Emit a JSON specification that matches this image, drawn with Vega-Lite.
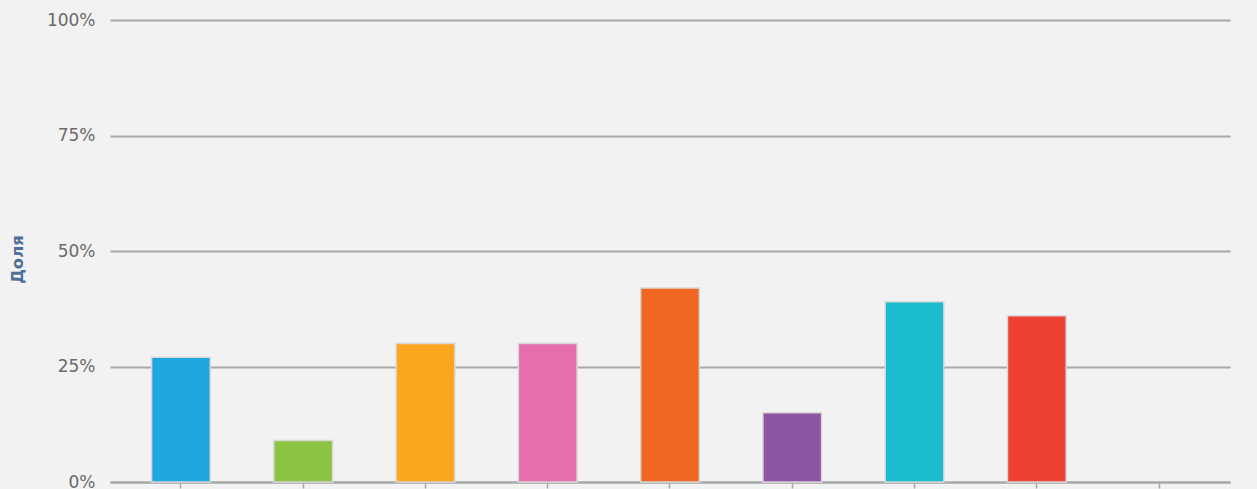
{
  "$schema": "https://vega.github.io/schema/vega-lite/v6.json",
  "autosize": "none",
  "width": 1120,
  "height": 462,
  "padding": {"left": 110, "top": 20, "right": 27, "bottom": 7},
  "background": "#f2f2f2",
  "data": {
    "values": [
      {"k": "1", "v": 0.27, "c": "#1ea6df"},
      {"k": "2", "v": 0.09, "c": "#8bc441"},
      {"k": "3", "v": 0.30, "c": "#fba61e"},
      {"k": "4", "v": 0.30, "c": "#e66eab"},
      {"k": "5", "v": 0.42, "c": "#f06722"},
      {"k": "6", "v": 0.15, "c": "#8d55a1"},
      {"k": "7", "v": 0.39, "c": "#1bbccd"},
      {"k": "8", "v": 0.36, "c": "#ee4134"},
      {"k": "9", "v": null, "c": "#cccccc"}
    ]
  },
  "mark": {"type": "bar", "stroke": "#d8d8d8", "strokeWidth": 1.5},
  "encoding": {
    "x": {
      "field": "k", "type": "nominal", "sort": null,
      "scale": {"domain": ["1", "2", "3", "4", "5", "6", "7", "8", "9"], "paddingInner": 0.52, "paddingOuter": 0.34},
      "axis": {"title": null, "labels": false, "domainColor": "#a8a8a8", "domainWidth": 2, "tickColor": "#a8a8a8", "tickSize": 6, "tickWidth": 1.5, "grid": false}
    },
    "y": {
      "field": "v", "type": "quantitative",
      "scale": {"domain": [0, 1]},
      "axis": {
        "title": "Доля", "format": ".0%", "values": [0, 0.25, 0.5, 0.75, 1],
        "ticks": false, "domain": false, "grid": true, "gridColor": "#a8a8a8", "gridWidth": 2,
        "labelFont": "DejaVu Sans", "labelFontSize": 17, "labelColor": "#6a6a6a", "labelPadding": 15,
        "titleFont": "DejaVu Sans", "titleFontSize": 16.5, "titleFontWeight": "bold", "titleColor": "#4e6f98", "titlePadding": 21, "titleY": 239
      }
    },
    "color": {"field": "c", "type": "nominal", "scale": null, "legend": null}
  },
  "config": {"view": {"stroke": null}}
}
